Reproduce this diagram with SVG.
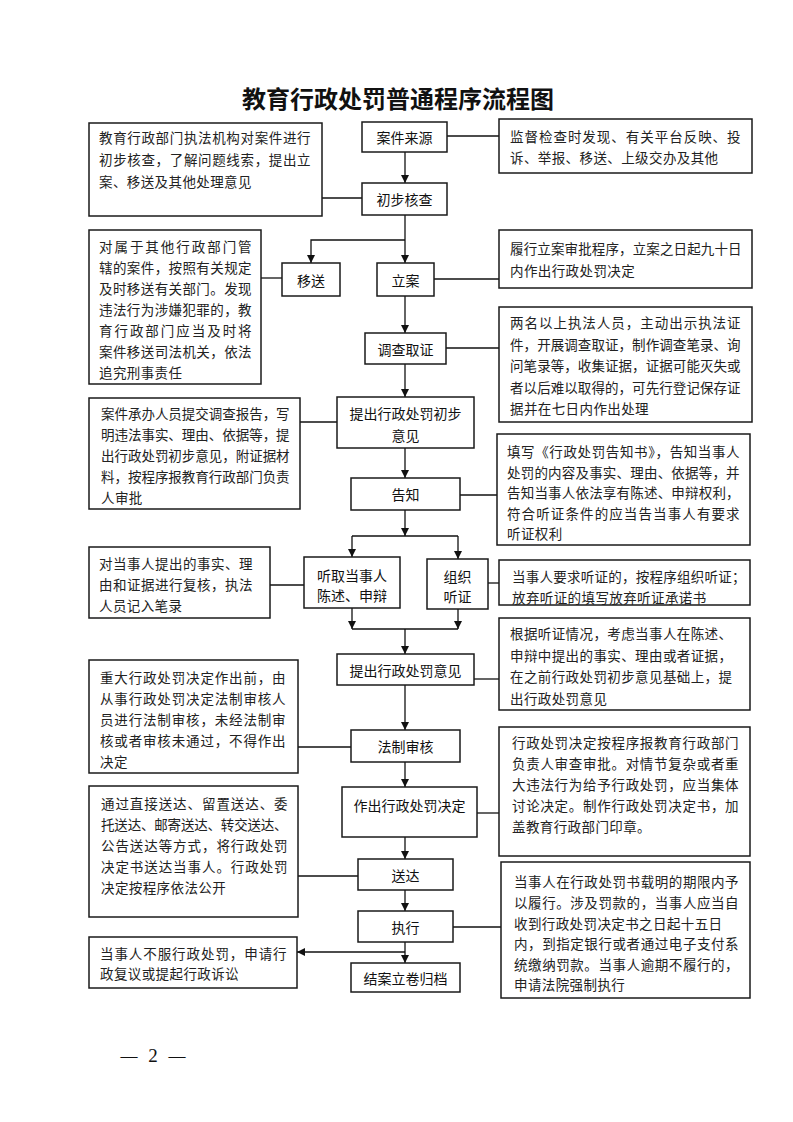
<svg xmlns="http://www.w3.org/2000/svg" width="793" height="1122" viewBox="0 0 793 1122">
<style>
.box{fill:#fff;stroke:#1a1a1a;stroke-width:1.5}
.lbl{font-family:"Noto Sans CJK SC",sans-serif;font-size:14px;text-anchor:middle;dominant-baseline:central;fill:#111}
.desc{font-family:"Noto Sans CJK SC",sans-serif;font-size:13.5px;letter-spacing:0.4px;dominant-baseline:central;fill:#222}
.ln{stroke:#111;stroke-width:1.3;fill:none}
.arr{marker-end:url(#ah)}
.title{font-family:"Noto Sans CJK SC",sans-serif;font-size:24px;font-weight:700;text-anchor:middle;dominant-baseline:central;fill:#111}
.pg{font-family:"Liberation Serif",serif;font-size:19px;text-anchor:middle;dominant-baseline:central;fill:#111}
</style>
<defs>
<marker id="ah" viewBox="0 0 10 10" refX="10" refY="5" markerWidth="8" markerHeight="8" markerUnits="userSpaceOnUse" orient="auto"><path d="M0,0 L10,5 L0,10 z" fill="#111"/></marker>
</defs>
<rect width="793" height="1122" fill="#fff"/>
<text class="title" x="398" y="97">教育行政处罚普通程序流程图</text>

<g id="connectors">
<line class="ln" x1="447" y1="136" x2="499" y2="136"/>
<line class="ln" x1="322" y1="198" x2="362" y2="198"/>
<line class="ln arr" x1="405" y1="152" x2="405" y2="183"/>
<line class="ln arr" x1="405" y1="215" x2="405" y2="263"/>
<polyline class="ln arr" points="405,240 311,240 311,263"/>
<line class="ln" x1="261" y1="278" x2="282" y2="278"/>
<line class="ln" x1="434" y1="279" x2="499" y2="279"/>
<line class="ln arr" x1="405" y1="296" x2="405" y2="333"/>
<line class="ln" x1="446" y1="348" x2="499" y2="348"/>
<line class="ln arr" x1="405" y1="364" x2="405" y2="397"/>
<line class="ln" x1="300" y1="422" x2="337" y2="422"/>
<line class="ln arr" x1="405" y1="448" x2="405" y2="478"/>
<line class="ln" x1="460" y1="495" x2="497" y2="495"/>
<line class="ln arr" x1="405" y1="510" x2="405" y2="536"/>
<line class="ln" x1="352" y1="536" x2="458" y2="536"/>
<line class="ln arr" x1="352" y1="536" x2="352" y2="557"/>
<line class="ln arr" x1="458" y1="536" x2="458" y2="559"/>
<line class="ln" x1="270" y1="585" x2="304" y2="585"/>
<line class="ln" x1="488" y1="583" x2="499" y2="583"/>
<line class="ln arr" x1="352" y1="608" x2="352" y2="629"/>
<line class="ln arr" x1="458" y1="609" x2="458" y2="629"/>
<line class="ln" x1="352" y1="629" x2="458" y2="629"/>
<line class="ln arr" x1="405" y1="629" x2="405" y2="654"/>
<line class="ln" x1="474" y1="679" x2="499" y2="679"/>
<line class="ln arr" x1="405" y1="685" x2="405" y2="730"/>
<line class="ln" x1="298" y1="747" x2="351" y2="747"/>
<line class="ln arr" x1="405" y1="762" x2="405" y2="787"/>
<line class="ln" x1="477" y1="813" x2="499" y2="813"/>
<line class="ln arr" x1="405" y1="837" x2="405" y2="859"/>
<line class="ln" x1="298" y1="876" x2="358" y2="876"/>
<line class="ln arr" x1="405" y1="890" x2="405" y2="911"/>
<line class="ln" x1="453" y1="927" x2="501" y2="927"/>
<line class="ln arr" x1="405" y1="942" x2="405" y2="963"/>
<polyline class="ln arr" points="405,952 297,952"/>
</g>

<g id="n-source"><rect class="box" x="362" y="122" width="85" height="30"/><text class="lbl" x="404.5" y="137">案件来源</text></g>
<g id="n-check"><rect class="box" x="362" y="183" width="85" height="32"/><text class="lbl" x="404.5" y="199">初步核查</text></g>
<g id="n-transfer"><rect class="box" x="282" y="263" width="58" height="33"/><text class="lbl" x="311" y="279.5">移送</text></g>
<g id="n-file"><rect class="box" x="377" y="263" width="57" height="33"/><text class="lbl" x="405.5" y="279.5">立案</text></g>
<g id="n-investigate"><rect class="box" x="365" y="333" width="81" height="31"/><text class="lbl" x="405.5" y="348.5">调查取证</text></g>
<g id="n-prelim"><rect class="box" x="337" y="397" width="137" height="51"/><text class="lbl" x="405.5" y="413">提出行政处罚初步</text><text class="lbl" x="405.5" y="435">意见</text></g>
<g id="n-notify"><rect class="box" x="351" y="478" width="109" height="32"/><text class="lbl" x="405.5" y="494">告知</text></g>
<g id="n-hear"><rect class="box" x="304" y="557" width="96" height="51"/><text class="lbl" x="352" y="575">听取当事人</text><text class="lbl" x="352" y="595">陈述、申辩</text></g>
<g id="n-hearing"><rect class="box" x="427" y="559" width="61" height="50"/><text class="lbl" x="457.5" y="576">组织</text><text class="lbl" x="457.5" y="596">听证</text></g>
<g id="n-opinion"><rect class="box" x="337" y="654" width="137" height="31"/><text class="lbl" x="405.5" y="669.5">提出行政处罚意见</text></g>
<g id="n-legal"><rect class="box" x="351" y="730" width="109" height="32"/><text class="lbl" x="405.5" y="746">法制审核</text></g>
<g id="n-decide"><rect class="box" x="342" y="787" width="135" height="50"/><text class="lbl" x="409.5" y="805">作出行政处罚决定</text></g>
<g id="n-deliver"><rect class="box" x="358" y="859" width="95" height="31"/><text class="lbl" x="405.5" y="874.5">送达</text></g>
<g id="n-execute"><rect class="box" x="358" y="911" width="95" height="31"/><text class="lbl" x="405.5" y="926.5">执行</text></g>
<g id="n-close"><rect class="box" x="351" y="963" width="109" height="29"/><text class="lbl" x="405.5" y="977.5">结案立卷归档</text></g>

<g id="d-a"><rect class="box" x="89" y="123" width="233" height="93"/>
<text class="desc" x="99" y="137" textLength="212" lengthAdjust="spacing">教育行政部门执法机构对案件进行</text>
<text class="desc" x="99" y="159" textLength="212" lengthAdjust="spacing">初步核查，了解问题线索，提出立</text>
<text class="desc" x="99" y="181">案、移送及其他处理意见</text></g>

<g id="d-b"><rect class="box" x="499" y="119" width="253" height="54"/>
<text class="desc" x="510" y="136" textLength="231" lengthAdjust="spacing">监督检查时发现、有关平台反映、投</text>
<text class="desc" x="510" y="157">诉、举报、移送、上级交办及其他</text></g>

<g id="d-c"><rect class="box" x="89" y="230" width="172" height="154"/>
<text class="desc" x="99" y="246" textLength="153" lengthAdjust="spacing">对属于其他行政部门管</text>
<text class="desc" x="99" y="267" textLength="153" lengthAdjust="spacing">辖的案件，按照有关规定</text>
<text class="desc" x="99" y="288" textLength="153" lengthAdjust="spacing">及时移送有关部门。发现</text>
<text class="desc" x="99" y="309" textLength="153" lengthAdjust="spacing">违法行为涉嫌犯罪的，教</text>
<text class="desc" x="99" y="330" textLength="153" lengthAdjust="spacing">育行政部门应当及时将</text>
<text class="desc" x="99" y="351" textLength="153" lengthAdjust="spacing">案件移送司法机关，依法</text>
<text class="desc" x="99" y="372">追究刑事责任</text></g>

<g id="d-d"><rect class="box" x="499" y="230" width="253" height="58"/>
<text class="desc" x="510" y="248" textLength="232" lengthAdjust="spacing">履行立案审批程序，立案之日起九十日</text>
<text class="desc" x="510" y="270">内作出行政处罚决定</text></g>

<g id="d-e"><rect class="box" x="499" y="307" width="253" height="115"/>
<text class="desc" x="510" y="322" textLength="231" lengthAdjust="spacing">两名以上执法人员，主动出示执法证</text>
<text class="desc" x="510" y="343.5" textLength="231" lengthAdjust="spacing">件，开展调查取证，制作调查笔录、询</text>
<text class="desc" x="510" y="365" textLength="231" lengthAdjust="spacing">问笔录等，收集证据，证据可能灭失或</text>
<text class="desc" x="510" y="386.5" textLength="231" lengthAdjust="spacing">者以后难以取得的，可先行登记保存证</text>
<text class="desc" x="510" y="408">据并在七日内作出处理</text></g>

<g id="d-f"><rect class="box" x="89" y="398" width="211" height="111"/>
<text class="desc" x="101" y="413" textLength="189" lengthAdjust="spacing">案件承办人员提交调查报告，写</text>
<text class="desc" x="101" y="434" textLength="189" lengthAdjust="spacing">明违法事实、理由、依据等，提</text>
<text class="desc" x="101" y="455" textLength="189" lengthAdjust="spacing">出行政处罚初步意见，附证据材</text>
<text class="desc" x="101" y="476" textLength="189" lengthAdjust="spacing">料，按程序报教育行政部门负责</text>
<text class="desc" x="101" y="497">人审批</text></g>

<g id="d-g"><rect class="box" x="497" y="434" width="253" height="111"/>
<text class="desc" x="507" y="451" textLength="233" lengthAdjust="spacing">填写《行政处罚告知书》，告知当事人</text>
<text class="desc" x="507" y="471.5" textLength="233" lengthAdjust="spacing">处罚的内容及事实、理由、依据等，并</text>
<text class="desc" x="507" y="492" textLength="233" lengthAdjust="spacing">告知当事人依法享有陈述、申辩权利，</text>
<text class="desc" x="507" y="512.5" textLength="233" lengthAdjust="spacing">符合听证条件的应当告当事人有要求</text>
<text class="desc" x="507" y="533">听证权利</text></g>

<g id="d-h"><rect class="box" x="89" y="547" width="181" height="71"/>
<text class="desc" x="99" y="563" textLength="154" lengthAdjust="spacing">对当事人提出的事实、理</text>
<text class="desc" x="99" y="584" textLength="154" lengthAdjust="spacing">由和证据进行复核，执法</text>
<text class="desc" x="99" y="605">人员记入笔录</text></g>

<g id="d-i"><rect class="box" x="499" y="560" width="251" height="45"/>
<text class="desc" x="512" y="576" textLength="234" lengthAdjust="spacing">当事人要求听证的，按程序组织听证；</text>
<text class="desc" x="512" y="596.5">放弃听证的填写放弃听证承诺书</text></g>

<g id="d-j"><rect class="box" x="499" y="618" width="251" height="92"/>
<text class="desc" x="510" y="633">根据听证情况，考虑当事人在陈述、</text>
<text class="desc" x="510" y="654.5">申辩中提出的事实、理由或者证据，</text>
<text class="desc" x="510" y="676">在之前行政处罚初步意见基础上，提</text>
<text class="desc" x="510" y="697.5">出行政处罚意见</text></g>

<g id="d-k"><rect class="box" x="89" y="660" width="209" height="113"/>
<text class="desc" x="100" y="677" textLength="186" lengthAdjust="spacing">重大行政处罚决定作出前，由</text>
<text class="desc" x="100" y="698" textLength="186" lengthAdjust="spacing">从事行政处罚决定法制审核人</text>
<text class="desc" x="100" y="719" textLength="186" lengthAdjust="spacing">员进行法制审核，未经法制审</text>
<text class="desc" x="100" y="740" textLength="186" lengthAdjust="spacing">核或者审核未通过，不得作出</text>
<text class="desc" x="100" y="761">决定</text></g>

<g id="d-l"><rect class="box" x="499" y="727" width="251" height="129"/>
<text class="desc" x="512" y="742" textLength="227" lengthAdjust="spacing">行政处罚决定按程序报教育行政部门</text>
<text class="desc" x="512" y="763" textLength="227" lengthAdjust="spacing">负责人审查审批。对情节复杂或者重</text>
<text class="desc" x="512" y="784" textLength="227" lengthAdjust="spacing">大违法行为给予行政处罚，应当集体</text>
<text class="desc" x="512" y="805" textLength="227" lengthAdjust="spacing">讨论决定。制作行政处罚决定书，加</text>
<text class="desc" x="512" y="826">盖教育行政部门印章。</text></g>

<g id="d-m"><rect class="box" x="89" y="786" width="209" height="131"/>
<text class="desc" x="101" y="803" textLength="187" lengthAdjust="spacing">通过直接送达、留置送达、委</text>
<text class="desc" x="101" y="824" textLength="187" lengthAdjust="spacing">托送达、邮寄送达、转交送达、</text>
<text class="desc" x="101" y="845" textLength="187" lengthAdjust="spacing">公告送达等方式，将行政处罚</text>
<text class="desc" x="101" y="866" textLength="187" lengthAdjust="spacing">决定书送达当事人。行政处罚</text>
<text class="desc" x="101" y="887">决定按程序依法公开</text></g>

<g id="d-n"><rect class="box" x="501" y="862" width="249" height="136"/>
<text class="desc" x="514" y="881" textLength="225" lengthAdjust="spacing">当事人在行政处罚书载明的期限内予</text>
<text class="desc" x="514" y="902" textLength="225" lengthAdjust="spacing">以履行。涉及罚款的，当事人应当自</text>
<text class="desc" x="514" y="922.5">收到行政处罚决定书之日起十五日</text>
<text class="desc" x="514" y="943" textLength="225" lengthAdjust="spacing">内，到指定银行或者通过电子支付系</text>
<text class="desc" x="514" y="963.5" textLength="225" lengthAdjust="spacing">统缴纳罚款。当事人逾期不履行的，</text>
<text class="desc" x="514" y="984">申请法院强制执行</text></g>

<g id="d-o"><rect class="box" x="89" y="937" width="208" height="51"/>
<text class="desc" x="100" y="953" textLength="187" lengthAdjust="spacing">当事人不服行政处罚，申请行</text>
<text class="desc" x="100" y="973">政复议或提起行政诉讼</text></g>

<text class="pg" y="1055"><tspan x="129" font-size="17">—</tspan><tspan x="153">2</tspan><tspan x="177" font-size="17">—</tspan></text>
</svg>
